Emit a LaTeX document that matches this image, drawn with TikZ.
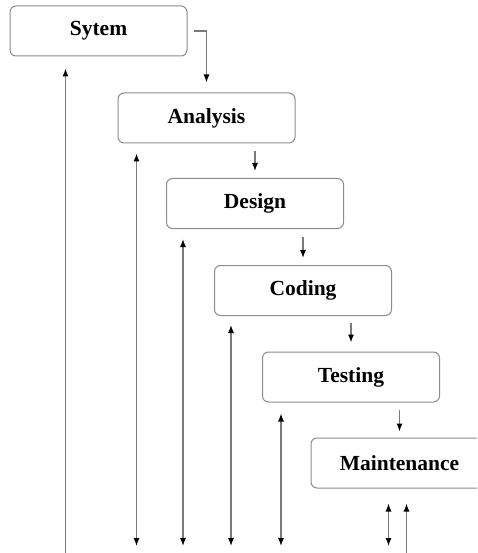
\documentclass[tikz,border=0pt]{standalone}
\usepackage{fontspec}
\setmainfont{Liberation Serif}
\usetikzlibrary{arrows.meta}
\definecolor{boxline}{HTML}{8C8C8C}
\definecolor{wire}{HTML}{7A7A7A}
\begin{document}
\begin{tikzpicture}[x=1pt,y=-1pt,
  phase/.style={draw=boxline, line width=1pt, rounded corners=6pt,
    minimum width=177pt, minimum height=50pt, inner sep=0pt,
    font=\fontsize{21.5}{24}\selectfont\bfseries, text=black},
  flow/.style={draw=wire, line width=1.1pt, -{Latex[length=8pt,width=6pt,color=black]}},
  both/.style={draw=wire, line width=1.1pt,
    {Latex[length=8pt,width=6pt,color=black]}-{Latex[length=8pt,width=6pt,color=black]}},
  up/.style={draw=wire, line width=1.1pt, {Latex[length=8pt,width=6pt,color=black]}-}]
\useasboundingbox (0,0) rectangle (477,553);
\clip (0,0) rectangle (477,553);

% phases of the life cycle, stepping down to the right
\node[phase] (sy) at (98.5,31)  {Sytem};
\node[phase] (an) at (206.5,118) {Analysis};
\node[phase] (de) at (255,203.5) {Design};
\node[phase] (co) at (303,290.5) {Coding};
\node[phase] (te) at (351,377)   {Testing};
\node[phase] (ma) at (399.5,463) {Maintenance};

% forward flow between consecutive phases
\coordinate (k0) at ([xshift=6pt]sy.east);
\draw[flow] (k0) -| ([yshift=10pt]an.north);
\draw[flow] ([yshift=-8pt]an.south -| de.north) -- ([yshift=7pt]de.north);
\draw[flow] ([yshift=-8pt]de.south -| co.north) -- ([yshift=7pt]co.north);
\draw[flow] ([yshift=-7pt]co.south -| te.north) -- ([yshift=9pt]te.north);
\draw[flow] ([yshift=-7pt]te.south -| ma.north) -- ([yshift=6pt]ma.north);

% bottom reference levels
\coordinate (tipline) at (0,546);
\coordinate (edge) at (0,556);

% feedback lines running down from each phase
\draw[up] ([xshift=56pt,yshift=-12pt]sy.south west) -- ([xshift=56pt]sy.south west |- edge);
\draw[both] ([xshift=19pt,yshift=-10pt]an.south west) -- ([xshift=19pt]an.south west |- tipline);
\draw[both] ([xshift=17pt,yshift=-10pt]de.south west) -- ([xshift=17pt]de.south west |- tipline);
\draw[both] ([xshift=17pt,yshift=-9pt]co.south west) -- ([xshift=17pt]co.south west |- tipline);
\draw[both] ([xshift=19pt,yshift=-11pt]te.south west) -- ([xshift=19pt]te.south west |- tipline);
\draw[both] ([xshift=78pt,yshift=-15pt]ma.south west) -- ([xshift=78pt]ma.south west |- tipline);
\draw[up] ([xshift=96pt,yshift=-15pt]ma.south west) -- ([xshift=96pt]ma.south west |- edge);
\end{tikzpicture}
\end{document}
